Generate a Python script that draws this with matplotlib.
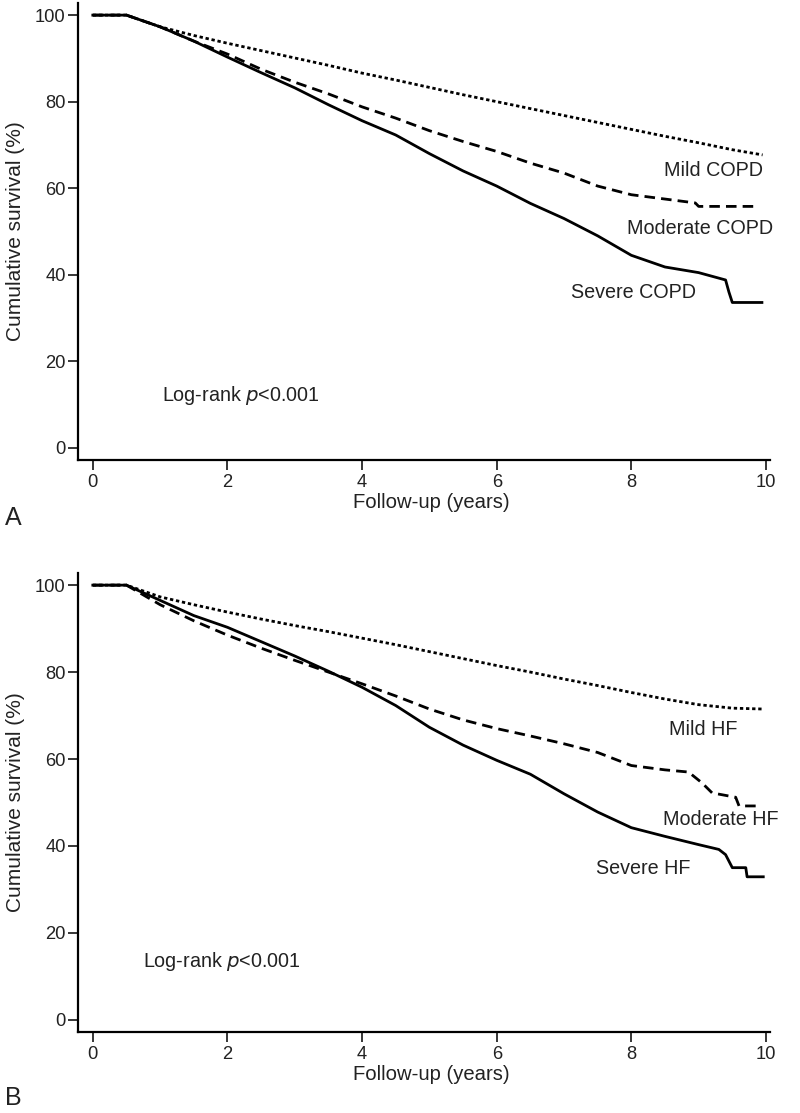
import matplotlib
matplotlib.use("Agg")
import matplotlib.pyplot as plt

plt.rcParams["font.family"] = ["Liberation Sans", "DejaVu Sans"]
plt.rcParams["axes.linewidth"] = 1.6

# ---- data (years, survival %) ----
copd_mild_t = [0, 0.5, 1, 1.5, 2, 2.5, 3, 3.5, 4, 4.5, 5, 5.5, 6, 6.5, 7, 7.5, 8, 8.5, 9, 9.5, 9.95]
copd_mild_s = [100, 100, 97.3, 95.3, 93.5, 91.8, 90.1, 88.4, 86.6, 85, 83.3, 81.6, 80, 78.4, 76.8, 75.2, 73.6, 72, 70.5, 68.9, 67.7]

copd_mod_t = [0, 0.5, 1, 1.5, 2, 2.5, 3, 3.5, 4, 4.5, 5, 5.5, 6, 6.5, 7, 7.5, 8, 8.5, 8.95, 9.0, 9.9]
copd_mod_s = [100, 100, 97.3, 94, 91, 87.5, 84.5, 81.8, 78.8, 76.2, 73.3, 70.8, 68.5, 65.8, 63.5, 60.5, 58.5, 57.5, 56.6, 55.8, 55.8]

copd_sev_t = [0, 0.5, 1, 1.5, 2, 2.5, 3, 3.5, 4, 4.5, 5, 5.5, 6, 6.5, 7, 7.5, 8, 8.5, 9, 9.4, 9.45, 9.5, 9.94]
copd_sev_s = [100, 100, 97.3, 94, 90.3, 86.7, 83.2, 79.3, 75.6, 72.3, 68, 64, 60.5, 56.5, 53, 49, 44.5, 41.8, 40.5, 38.8, 36, 33.6, 33.6]

hf_mild_t = [0, 0.5, 1, 1.5, 2, 2.5, 3, 3.5, 4, 4.5, 5, 5.5, 6, 6.5, 7, 7.5, 8, 8.5, 9, 9.5, 9.95]
hf_mild_s = [100, 100, 97.3, 95.5, 93.8, 92.2, 90.7, 89.3, 87.8, 86.3, 84.7, 83.1, 81.5, 80, 78.4, 76.9, 75.3, 73.8, 72.5, 71.7, 71.5]

hf_mod_t = [0, 0.5, 1, 1.5, 2, 2.5, 3, 3.5, 4, 4.5, 5, 5.5, 6, 6.5, 7, 7.5, 8, 8.5, 8.85, 9.05, 9.2, 9.55, 9.6, 9.9]
hf_mod_s = [100, 100, 95.5, 91.8, 88.5, 85.5, 82.7, 80, 77.3, 74.5, 71.5, 69, 67, 65.3, 63.5, 61.5, 58.5, 57.5, 57, 54.5, 52.2, 51.2, 49.2, 49.2]

hf_sev_t = [0, 0.5, 1, 1.5, 2, 2.5, 3, 3.5, 4, 4.5, 5, 5.5, 6, 6.5, 7, 7.5, 8, 8.5, 9, 9.3, 9.4, 9.5, 9.7, 9.72, 9.96]
hf_sev_s = [100, 100, 96.5, 93, 90.3, 87, 83.7, 80.2, 76.5, 72.3, 67.3, 63.2, 59.7, 56.5, 52, 47.8, 44.2, 42.2, 40.3, 39.2, 38, 35, 35, 32.9, 32.9]

xticks = [0, 2, 4, 6, 8, 10]
yticks = [0, 20, 40, 60, 80, 100]

# ---- figure ----
fig = plt.figure(figsize=(8, 11.13), dpi=100)
axA = fig.add_axes([0.0975, 0.5867, 0.865, 0.4106])
axB = fig.add_axes([0.0975, 0.0728, 0.865, 0.4124])

dot = dict(color="black", lw=2.0, linestyle=(0, (1.2, 1.0)))
dash = dict(color="black", lw=2.0, linestyle=(0, (3.8, 2.2)))
solid = dict(color="black", lw=2.0)
lab = dict(ha="right", va="center", fontsize=14.2, color="#222222", clip_on=False)


def style(ax):
    ax.set_xlim(-0.22, 10.06)
    ax.set_ylim(-2.8, 102.8)
    ax.set_xticks(xticks)
    ax.set_yticks(yticks)
    ax.spines["top"].set_visible(False)
    ax.spines["right"].set_visible(False)
    ax.tick_params(direction="out", length=7, width=1.1, labelsize=13.2, pad=3,
                   labelcolor="#222222")
    ax.tick_params(axis="y", pad=2)
    ax.set_ylabel("Cumulative survival (%)", fontsize=15, color="#222222")
    ax.yaxis.set_label_coords(-0.077, 0.5)
    ax.set_xlabel("Follow-up (years)", fontsize=14.6, color="#222222")
    ax.xaxis.set_label_coords(0.51, -0.073)


# 上段 COPD
axA.plot(copd_mild_t, copd_mild_s, **dot)
axA.plot(copd_mod_t, copd_mod_s, **dash)
axA.plot(copd_sev_t, copd_sev_s, **solid)
style(axA)
axA.text(9.95, 64.2, "Mild COPD", **lab)
axA.text(10.1, 50.8, "Moderate COPD", **lab)
axA.text(8.96, 35.8, "Severe COPD", **lab)
axA.text(1.03, 12.2, "Log-rank $\\it{p}$<0.001", ha="left", va="center", fontsize=14.2,
         color="#222222")

# 下段 HF
axB.plot(hf_mild_t, hf_mild_s, **dot)
axB.plot(hf_mod_t, hf_mod_s, **dash)
axB.plot(hf_sev_t, hf_sev_s, **solid)
style(axB)
axB.text(9.58, 66.9, "Mild HF", **lab)
axB.text(10.19, 46.0, "Moderate HF", **lab)
axB.text(8.87, 34.7, "Severe HF", **lab)
axB.text(0.74, 13.3, "Log-rank $\\it{p}$<0.001", ha="left", va="center", fontsize=14.2,
         color="#222222")

fig.text(13 / 800, 1 - 518 / 1113, "A", ha="center", va="center", fontsize=18, color="#222222")
fig.text(13 / 800, 1 - 1098 / 1113, "B", ha="center", va="center", fontsize=18, color="#222222")

fig.savefig("out.png", dpi=100)
